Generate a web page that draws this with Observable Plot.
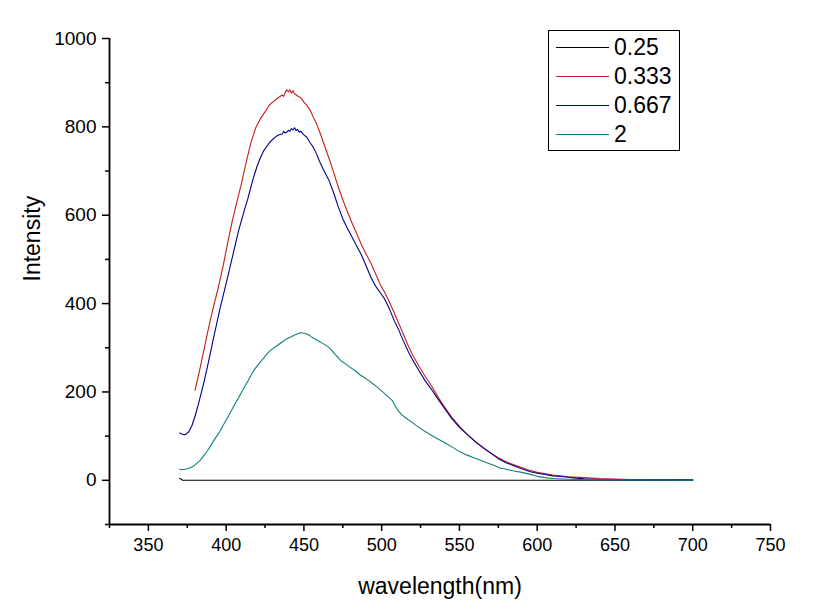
<!DOCTYPE html>
<html>
<head>
<meta charset="utf-8">
<script src="https://cdn.jsdelivr.net/npm/d3@7"></script>
<script src="https://cdn.jsdelivr.net/npm/@observablehq/plot@0.6"></script>
<style>
  body { margin: 0; background: #fff; }
  #wrap { position: relative; width: 816px; height: 616px; font-family: Arial, "Liberation Sans", sans-serif; }
  #legend { position: absolute; left: 548px; top: 30px; width: 132px; height: 121px; border: 1.5px solid #000; background: #fff; box-sizing: border-box; }
  .lrow { position: absolute; left: 0; height: 0; }
  .lline { position: absolute; left: 7px; width: 53px; height: 0; border-top: 1.2px solid #000; }
  .ltext { position: absolute; left: 65px; font-size: 23px; line-height: 23px; top: -11px; white-space: nowrap; color: #000; }
</style>
</head>
<body>
<div id="wrap"></div>
<script>
// Series names and colours
const seriesNames = ["0.25", "0.333", "0.667", "2"];
const seriesColors = ["#000000", "#c81c1c", "#00008c", "#0f7f7f"];

// Tick labels
const xTicks = [350, 400, 450, 500, 550, 600, 650, 700, 750];
const xMinorTicks = [325, 375, 425, 475, 525, 575, 625, 675, 725];
const yTicks = [0, 200, 400, 600, 800, 1000];
const yMinorTicks = [-100, 100, 300, 500, 700, 900];

// Series 0.25 (black)
const wl_025 = [370, 371, 372, 380, 450, 550, 650, 700];
const int_025 = [4, 3, 0, 0, 0, 0, 0, 0];

// Series 0.333 (red)
const wl_0333 = [380, 383, 386, 389, 392, 395, 398, 401, 404, 407, 410, 413, 416, 419, 422, 425, 428, 430, 432, 434, 436, 437, 438, 439, 440, 441, 442, 443, 444, 446, 448, 450, 452, 454, 456, 458, 460, 463, 466, 469, 472, 475, 478, 481, 484, 487, 490, 493, 496, 499, 502, 505, 508, 511, 514, 517, 520, 524, 528, 532, 536, 540, 545, 550, 555, 560, 565, 570, 575, 580, 585, 590, 595, 600, 610, 620, 630, 640, 650, 660, 670, 680, 690, 700];
const int_0333 = [204, 250, 300, 350, 395, 437, 484, 538, 588, 632, 674, 722, 765, 798, 818, 834, 850, 856, 862, 867, 872, 869, 878, 884, 879, 884, 876, 882, 875, 870, 866, 856, 848, 838, 822, 808, 790, 760, 730, 698, 665, 635, 608, 582, 558, 533, 512, 492, 468, 444, 425, 403, 380, 355, 330, 305, 283, 258, 235, 214, 190, 168, 143, 122, 104, 88, 75, 62, 51, 42, 35, 29, 23, 18, 12, 8, 6, 4, 3, 2, 1.5, 1, 1, 1];

// Series 0.667 (navy)
const wl_0667 = [370, 371, 372, 373, 374, 376, 378, 380, 382, 384, 386, 388, 390, 392, 394, 396, 398, 400, 402, 404, 406, 408, 410, 412, 414, 416, 418, 420, 422, 424, 426, 428, 430, 432, 434, 436, 437, 438, 439, 440, 441, 442, 443, 444, 445, 446, 447, 448, 450, 452, 454, 456, 458, 460, 463, 466, 469, 472, 475, 478, 481, 484, 487, 490, 493, 496, 499, 502, 505, 508, 511, 514, 517, 520, 524, 528, 532, 536, 540, 545, 550, 555, 560, 565, 570, 575, 580, 585, 590, 595, 600, 605, 610, 615, 620, 625, 630, 640, 650, 660, 680, 700];
const int_0667 = [107, 106, 104, 103, 104, 110, 124, 145, 170, 198, 226, 258, 290, 324, 356, 388, 417, 446, 475, 505, 535, 565, 590, 615, 638, 665, 690, 712, 730, 745, 755, 765, 772, 778, 782, 784, 790, 786, 788, 792, 790, 796, 793, 798, 792, 794, 788, 790, 782, 776, 764, 754, 740, 722, 700, 680, 652, 620, 592, 570, 550, 530, 510, 485, 460, 440, 425, 410, 388, 362, 340, 315, 292, 272, 248, 225, 206, 185, 165, 140, 120, 104, 88, 74, 62, 49, 40, 33, 26, 20, 16, 13, 10, 8.5, 7, 5, 3.5, 2, 1.5, 1, 1, 1];

// Series 2 (teal)
const wl_2 = [370, 372, 375, 378, 380, 383, 385, 388, 390, 393, 396, 398, 400, 402, 404, 406, 408, 410, 412, 414, 416, 418, 420, 422, 424, 426, 428, 430, 432, 434, 436, 438, 440, 442, 444, 446, 448, 450, 452, 454, 456, 458, 460, 462, 464, 466, 468, 470, 472, 474, 477, 480, 483, 486, 489, 492, 495, 498, 501, 504, 507, 509, 511, 513, 516, 520, 525, 530, 535, 538, 542, 546, 550, 555, 560, 564, 568, 572, 576, 580, 585, 590, 595, 600, 605, 610, 620, 630, 650, 700];
const int_2 = [25, 24, 26, 30, 35, 44, 53, 67, 78, 95, 111, 124, 136, 149, 162, 175, 187, 200, 213, 225, 238, 250, 259, 268, 276, 285, 293, 298, 303, 308, 313, 318, 322, 325, 329, 332, 334, 333, 331, 327, 322, 318, 314, 310, 306, 301, 294, 285, 278, 270, 263, 255, 248, 239, 232, 225, 217, 208, 199, 190, 180, 166, 156, 148, 140, 130, 117, 106, 96, 90, 82, 74, 65, 57, 50, 45, 39, 34, 28, 25, 21, 18, 14, 9, 6, 4, 2.5, 1.5, 1, 0.5];

const wlArrays = [wl_025, wl_0333, wl_0667, wl_2];
const intArrays = [int_025, int_0333, int_0667, int_2];

const rows = [];
seriesNames.forEach((name, i) => {
  wlArrays[i].forEach((w, j) => rows.push({series: name, wl: w, val: intArrays[i][j]}));
});

const font = 'Arial, "Liberation Sans", sans-serif';

const chart = Plot.plot({
  width: 816,
  height: 616,
  marginLeft: 109,
  marginRight: 46,
  marginTop: 38,
  marginBottom: 92,
  style: {fontFamily: font, fontSize: "19px", color: "#000", background: "#fff", overflow: "visible"},
  x: {domain: [325, 750]},
  y: {domain: [-100, 1000]},
  color: {domain: seriesNames, range: seriesColors},
  marks: [
    Plot.axisX({ticks: xMinorTicks, tickSize: 4, tickFormat: () => "", label: null, strokeWidth: 1.5}),
    Plot.axisX({ticks: xTicks, tickSize: 7, tickPadding: 7, tickFormat: d3.format("d"), label: null, strokeWidth: 1.5, fontSize: 18}),
    Plot.axisY({ticks: yMinorTicks, tickSize: 4, tickFormat: () => "", label: null, strokeWidth: 1.5}),
    Plot.axisY({ticks: yTicks, tickSize: 7, tickPadding: 6, tickFormat: d3.format("d"), label: null, strokeWidth: 1.5, fontSize: 19}),
    Plot.ruleX([325], {strokeWidth: 1.8}),
    Plot.ruleY([-100], {strokeWidth: 1.8}),
    Plot.line(rows, {x: "wl", y: "val", z: "series", stroke: "series", strokeWidth: 1.1}),
    Plot.text(["wavelength(nm)"], {text: d => d, frameAnchor: "bottom", dy: 62, fontSize: 23, lineAnchor: "middle"}),
    Plot.text(["Intensity"], {text: d => d, frameAnchor: "left", dx: -77, rotate: -90, fontSize: 23, lineAnchor: "middle"})
  ]
});

const wrap = document.getElementById("wrap");
wrap.appendChild(chart);

// Legend inside the plot area
const legend = document.createElement("div");
legend.id = "legend";
const rowTops = [16, 45, 74, 103];
seriesNames.forEach((name, i) => {
  const r = document.createElement("div");
  r.className = "lrow";
  r.style.top = rowTops[i] + "px";
  const l = document.createElement("div");
  l.className = "lline";
  l.style.borderTopColor = seriesColors[i];
  const t = document.createElement("div");
  t.className = "ltext";
  t.textContent = name;
  r.appendChild(l); r.appendChild(t);
  legend.appendChild(r);
});
wrap.appendChild(legend);
</script>
</body>
</html>
